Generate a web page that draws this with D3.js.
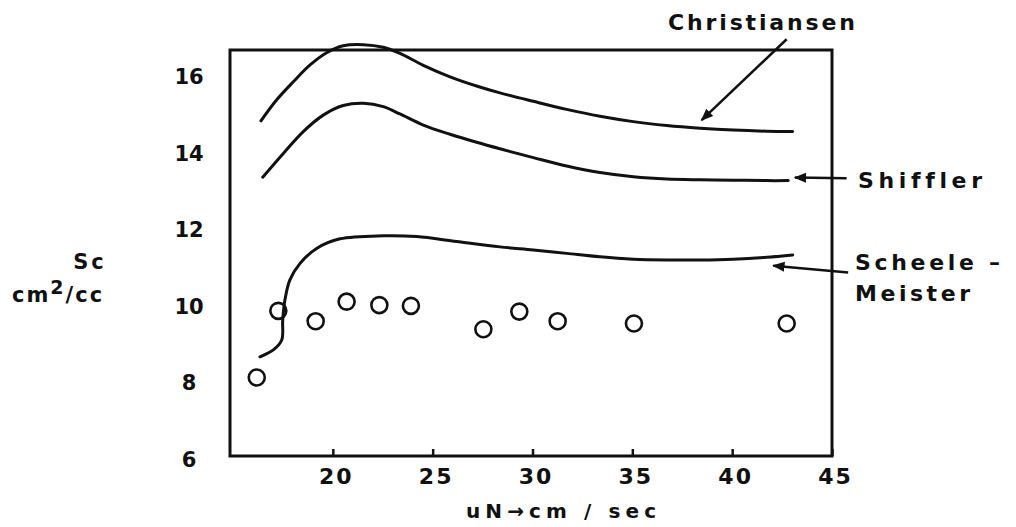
<!DOCTYPE html>
<html>
<head>
  <meta charset="utf-8">
  <title>Sc vs uN</title>
  <style type="text/css">
    body { margin: 0; background: #fff; }
    svg { display: block; background: #fff; }
    text { font-family: "DejaVu Sans", sans-serif; fill: #111; font-weight: bold; font-variant-ligatures: none; }
    .curve { fill: none; stroke: #111; stroke-width: 3; stroke-linecap: round; }
    .obs { fill: none; stroke: #111; stroke-width: 2.6; }
  </style>
</head>
<body>
<svg id="vis" width="1016" height="527"></svg>

<script src="https://cdnjs.cloudflare.com/ajax/libs/d3/7.8.5/d3.min.js"></script>
<script type="text/javascript">
  // tick labels
  var xTicks = [20, 25, 30, 35, 40, 45]
  var yTicks = [6, 8, 10, 12, 14, 16]

  // measured points (open circles)
  var obsU  = [16.19, 17.27, 19.14, 20.69, 22.33, 23.91, 27.54, 29.34, 31.26, 35.08, 42.73]
  var obsSc = [8.15, 9.89, 9.62, 10.13, 10.04, 10.02, 9.41, 9.87, 9.62, 9.56, 9.56]

  // Christiansen curve
  var chrU  = [16.40, 17.19, 18.02, 18.86, 19.69, 20.52, 21.53, 22.53, 23.36, 24.53, 25.87, 27.20,
               28.37, 30.04, 31.71, 33.38, 35.05, 36.72, 38.39, 40.05, 41.73, 43.03]
  var chrSc = [14.85, 15.40, 15.87, 16.31, 16.63, 16.81, 16.84, 16.77, 16.61, 16.30, 16.00, 15.76,
               15.58, 15.36, 15.15, 14.97, 14.83, 14.73, 14.66, 14.61, 14.58, 14.57]

  // Shiffler curve
  var shiU  = [16.49, 17.52, 18.52, 19.52, 20.52, 21.53, 22.53, 23.36, 24.53, 25.87, 27.20,
               28.37, 30.04, 31.71, 33.38, 35.05, 36.72, 38.39, 40.05, 41.73, 42.81]
  var shiSc = [13.38, 14.00, 14.57, 15.00, 15.25, 15.31, 15.22, 15.03, 14.74, 14.50, 14.29,
               14.12, 13.89, 13.67, 13.50, 13.39, 13.33, 13.31, 13.30, 13.29, 13.29]

  // Scheele - Meister curve
  var schU  = [16.35, 17.02, 17.44, 17.49, 17.60, 17.85, 18.36, 19.19, 20.36, 22.53, 24.20,
               26.20, 28.37, 30.04, 31.71, 33.38, 35.05, 36.72, 38.39, 40.05, 41.73, 43.03]
  var schSc = [8.69, 8.87, 9.13, 9.65, 10.17, 10.70, 11.13, 11.52, 11.77, 11.85, 11.83,
               11.70, 11.56, 11.48, 11.39, 11.30, 11.24, 11.22, 11.22, 11.24, 11.29, 11.35]

  var svg = d3.select('#vis')

  var xScale = d3.scaleLinear()
    .domain([14.85, 45])
    .range([230, 832])

  var yScale = d3.scaleLinear()
    .domain([6.1, 16.7])
    .range([456, 50])

  var line = d3.line()
    .x(function(d) { return xScale(d[0]) })
    .y(function(d) { return yScale(d[1]) })
    .curve(d3.curveCatmullRom.alpha(0.5))

  // arrow head
  svg.append('defs').append('marker')
      .attr('id', 'head')
      .attr('viewBox', '0 0 10 10')
      .attr('refX', 9).attr('refY', 5)
      .attr('markerWidth', 5).attr('markerHeight', 5)
      .attr('markerUnits', 'strokeWidth')
      .attr('orient', 'auto')
    .append('path')
      .attr('d', 'M0,1 L10,5 L0,9 z')
      .attr('fill', '#111')

  // frame
  svg.append('rect')
    .attr('x', xScale.range()[0])
    .attr('y', yScale.range()[1])
    .attr('width', xScale.range()[1] - xScale.range()[0])
    .attr('height', yScale.range()[0] - yScale.range()[1])
    .attr('fill', 'none')
    .attr('stroke', '#111')
    .attr('stroke-width', 3)

  // x axis, small ticks pointing up into the box
  var xAxis = svg.append('g')
    .attr('transform', 'translate(0,' + yScale.range()[0] + ')')
    .call(d3.axisBottom(xScale).tickValues(xTicks).tickSizeInner(-7).tickSizeOuter(0).tickPadding(12))
  xAxis.select('.domain').remove()
  xAxis.selectAll('line').attr('stroke', '#111').attr('stroke-width', 2.5)
  xAxis.selectAll('text')
    .attr('font-size', 22)
    .attr('font-weight', 'normal')
    .attr('letter-spacing', 2)
    .attr('fill', '#111')
    .attr('dx', 3)

  // y axis, labels only
  var yAxis = svg.append('g')
    .attr('transform', 'translate(' + xScale.range()[0] + ',0)')
    .call(d3.axisLeft(yScale).tickValues(yTicks).tickSize(0))
  yAxis.select('.domain').remove()
  yAxis.selectAll('text')
    .attr('x', -41)
    .attr('text-anchor', 'middle')
    .attr('font-size', 21)
    .attr('font-weight', 'normal')
    .attr('fill', '#111')

  // curves
  var curves = [[chrU, chrSc], [shiU, shiSc], [schU, schSc]]
  svg.selectAll('path.curve')
    .data(curves)
    .enter().append('path')
      .attr('class', 'curve')
      .attr('d', function(c) { return line(d3.zip(c[0], c[1])) })

  // open circles
  svg.selectAll('circle.obs')
    .data(d3.zip(obsU, obsSc))
    .enter().append('circle')
      .attr('class', 'obs')
      .attr('cx', function(d) { return xScale(d[0]) })
      .attr('cy', function(d) { return yScale(d[1]) })
      .attr('r', 8)

  // annotation arrows (from label to curve)
  var arrows = [
    [[42.73, 16.98], [38.47, 14.87]],
    [[45.73, 13.35], [43.14, 13.37]],
    [[45.81, 10.89], [42.06, 11.07]]
  ]
  svg.selectAll('line.arrow')
    .data(arrows)
    .enter().append('line')
      .attr('class', 'arrow')
      .attr('x1', function(d) { return xScale(d[0][0]) })
      .attr('y1', function(d) { return yScale(d[0][1]) })
      .attr('x2', function(d) { return xScale(d[1][0]) })
      .attr('y2', function(d) { return yScale(d[1][1]) })
      .attr('stroke', '#111')
      .attr('stroke-width', 2.5)
      .attr('marker-end', 'url(#head)')

  // labels
  function label(txt, x, y, w, size) {
    return svg.append('text')
      .attr('x', x).attr('y', y)
      .attr('font-size', size)
      .attr('textLength', w)
      .attr('lengthAdjust', 'spacing')
      .text(txt)
  }
  label('Christiansen', 668, 30, 187, 22)
  label('Shiffler', 858, 188, 124, 22)
  label('Scheele –', 855, 270, 145, 22)
  label('Meister', 855, 301, 115, 22)

  // y title
  svg.append('text')
    .attr('x', 90).attr('y', 269)
    .attr('text-anchor', 'middle')
    .attr('font-size', 21)
    .attr('letter-spacing', 3)
    .text('Sc')
  var yt = svg.append('text')
    .attr('x', 12).attr('y', 302)
    .attr('font-size', 21)
    .attr('letter-spacing', 2)
  yt.append('tspan').text('cm')
  yt.append('tspan').attr('dy', -8).attr('font-size', 19).text('2')
  yt.append('tspan').attr('dy', 8).text('/cc')

  // x title
  svg.append('text')
    .attr('x', 466).attr('y', 518)
    .attr('font-size', 20)
    .attr('textLength', 190)
    .attr('lengthAdjust', 'spacing')
    .text('uN→cm / sec')
</script>
</body>
</html>
